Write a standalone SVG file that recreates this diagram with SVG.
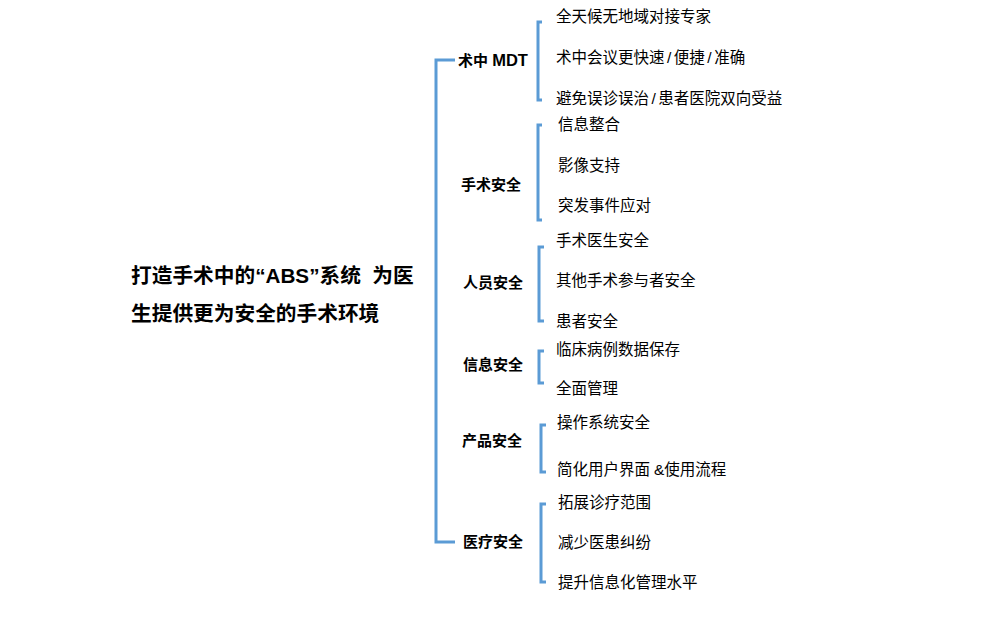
<svg xmlns="http://www.w3.org/2000/svg" width="991" height="626" viewBox="0 0 991 626">
<style>
.br{fill:none;stroke:#5b9bd5;stroke-width:3;}
.title{font-family:"Liberation Sans","Noto Sans CJK SC",sans-serif;font-size:20.7px;font-weight:bold;fill:#000;white-space:pre;}
.lbl{font-family:"Liberation Sans","Noto Sans CJK SC",sans-serif;font-size:15px;font-weight:bold;fill:#000;}
.leaf{font-family:"Liberation Sans","Noto Sans CJK SC",sans-serif;font-size:15.5px;fill:#000;}
</style>
<rect width="991" height="626" fill="#fff"/>
<g id="connectors">
<path class="br" d="M455,60 H436 V542 H455"/>
<path class="br" d="M542,22 H538 V100 H542"/>
<path class="br" d="M542,125 H538 V220 H542"/>
<path class="br" d="M544,247 H539 V321 H544"/>
<path class="br" d="M544,351 H539 V383 H544"/>
<path class="br" d="M546,425 H541 V472 H546"/>
<path class="br" d="M546,504 H541 V582 H546"/>
</g>
<g id="root">
<text class="title" x="131" y="283">打造手术中的“ABS”系统  为医</text>
<text class="title" x="131" y="321">生提供更为安全的手术环境</text>
</g>
<g id="n1"><text class="lbl" x="458" y="66">术中 <tspan font-size="16.5px">MDT</tspan></text></g>
<g id="n2"><text class="lbl" x="461" y="190">手术安全</text></g>
<g id="n3"><text class="lbl" x="463" y="288">人员安全</text></g>
<g id="n4"><text class="lbl" x="463" y="370">信息安全</text></g>
<g id="n5"><text class="lbl" x="462" y="446">产品安全</text></g>
<g id="n6"><text class="lbl" x="463" y="547">医疗安全</text></g>
<g id="l1"><text class="leaf" x="556" y="22">全天候无地域对接专家</text></g>
<g id="l2"><text class="leaf" x="556" y="63">术中会议更快速<tspan dx="2.5">/</tspan><tspan dx="2.5">便捷</tspan><tspan dx="2.5">/</tspan><tspan dx="2.5">准确</tspan></text></g>
<g id="l3"><text class="leaf" x="556" y="104">避免误诊误治<tspan dx="2.5">/</tspan><tspan dx="2.5">患者医院双向受益</tspan></text></g>
<g id="l4"><text class="leaf" x="558" y="130">信息整合</text></g>
<g id="l5"><text class="leaf" x="558" y="171">影像支持</text></g>
<g id="l6"><text class="leaf" x="558" y="211">突发事件应对</text></g>
<g id="l7"><text class="leaf" x="556" y="246">手术医生安全</text></g>
<g id="l8"><text class="leaf" x="556" y="286">其他手术参与者安全</text></g>
<g id="l9"><text class="leaf" x="556" y="327">患者安全</text></g>
<g id="l10"><text class="leaf" x="556" y="355">临床病例数据保存</text></g>
<g id="l11"><text class="leaf" x="556" y="394">全面管理</text></g>
<g id="l12"><text class="leaf" x="557" y="428">操作系统安全</text></g>
<g id="l13"><text class="leaf" x="557" y="475">简化用户界面<tspan dx="4">&amp;</tspan>使用流程</text></g>
<g id="l14"><text class="leaf" x="558" y="508">拓展诊疗范围</text></g>
<g id="l15"><text class="leaf" x="558" y="548">减少医患纠纷</text></g>
<g id="l16"><text class="leaf" x="558" y="588">提升信息化管理水平</text></g>
</svg>
